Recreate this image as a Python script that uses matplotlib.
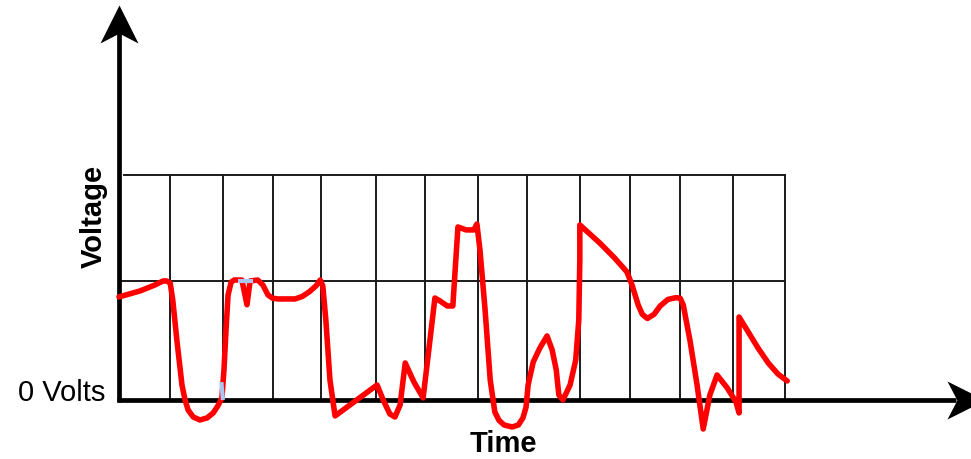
import matplotlib.pyplot as plt
from matplotlib.path import Path

# signal trace (time in grid columns, voltage in grid rows)
time = [0.0, 0.41, 0.70, 0.86, 0.93, 1.0, 1.05, 1.13, 1.23, 1.29, 1.35, 1.45, 1.58,
        1.72, 1.84, 1.93, 2.01, 2.05, 2.09, 2.13, 2.19, 2.25, 2.40, 2.50, 2.56,
        2.71, 2.81, 2.91, 3.0, 3.10, 3.44, 3.58, 3.72, 3.85, 3.93, 3.98, 4.04,
        4.12, 4.22, 5.04, 5.16, 5.29, 5.39, 5.49, 5.59, 5.76, 5.94, 6.17, 6.27,
        6.41, 6.52, 6.62, 6.78, 6.93, 6.99, 7.05, 7.15, 7.25, 7.34, 7.42, 7.52,
        7.68, 7.80, 7.89, 7.95, 7.99, 8.09, 8.22, 8.36, 8.46, 8.54, 8.59, 8.67,
        8.81, 8.92, 8.98, 9.0, 9.0, 9.39, 9.68, 9.92, 10.02, 10.14, 10.22, 10.32,
        10.45, 10.57, 10.72, 10.88, 10.96, 11.02, 11.15, 11.29, 11.41, 11.54,
        11.68, 11.88, 12.05, 12.11, 12.11, 12.29, 12.48, 12.68, 12.87, 13.05]
voltage = [0.866, 0.916, 0.966, 1.0, 1.0, 0.983, 0.84, 0.504, 0.126, 0.0, -0.084,
           -0.143, -0.168, -0.151, -0.109, -0.05, 0.017, 0.252, 0.588, 0.882, 0.99,
           1.008, 1.008, 0.80, 1.0, 1.008, 0.966, 0.882, 0.855, 0.849, 0.849, 0.87,
           0.91, 0.96, 1.008, 0.958, 0.672, 0.168, -0.134, 0.126, 0.0, -0.118,
           -0.143, -0.042, 0.311, 0.151, 0.017, 0.857, 0.832, 0.79, 0.79, 1.454,
           1.429, 1.429, 1.479, 1.26, 0.756, 0.168, -0.101, -0.17, -0.21, -0.227,
           -0.21, -0.15, -0.06, 0.126, 0.319, 0.437, 0.538, 0.42, 0.252, 0.042,
           0.0, 0.126, 0.336, 0.672, 1.176, 1.471, 1.319, 1.193, 1.076, 0.966,
           0.798, 0.72, 0.685, 0.72, 0.79, 0.845, 0.86, 0.855, 0.798, 0.504,
           0.126, -0.244, 0.042, 0.21, 0.101, -0.017, -0.109, 0.697, 0.571, 0.437,
           0.311, 0.218, 0.16]

grid_times = [1.0, 2.03, 3.01, 3.95, 5.02, 5.98, 7.01, 7.97, 9.0, 9.98, 10.96, 12.0, 13.0]
grid_mid = 1.0
grid_top = 1.89

# pale blue highlight bits left in the original drawing
hl_time = [[2.0, 2.03], [2.33, 2.62]]
hl_volt = [[0.15, 0.0], [1.0, 1.0]]

fig = plt.figure(figsize=(9.71, 4.59), dpi=100)
ax = fig.add_axes([0, 0, 1, 1])
ax.set_xlim(-2.324, 16.64)
ax.set_ylim(-0.496, 3.361)
ax.axis("off")

plt.rcParams["font.family"] = ["Liberation Sans", "DejaVu Sans"]

# grid
t_end = grid_times[-1]
for t in grid_times:
    ax.plot([t, t], [0, grid_top], color="#1a1a1a", lw=1.4, zorder=1)
ax.plot([0, t_end], [grid_mid, grid_mid], color="#1a1a1a", lw=1.4, zorder=1)
ax.plot([0.1, t_end], [grid_top, grid_top], color="#1a1a1a", lw=1.4, zorder=1)

# axes with arrow heads
up_head = Path([(0, 0), (0.5, -1), (0, -0.74), (-0.5, -1), (0, 0)],
               [Path.MOVETO, Path.LINETO, Path.LINETO, Path.LINETO, Path.CLOSEPOLY])
right_head = Path([(0, 0), (-1, 0.5), (-0.74, 0), (-1, -0.5), (0, 0)],
                  [Path.MOVETO, Path.LINETO, Path.LINETO, Path.LINETO, Path.CLOSEPOLY])
ax.plot([0, 0], [-0.02, 3.1], color="black", lw=3.4, solid_capstyle="butt", zorder=2)
ax.plot([-0.04, 16.35], [0, 0], color="black", lw=3.4, solid_capstyle="butt", zorder=2)
ax.plot([0], [3.319], marker=up_head, ms=54.7, color="black", mew=0, zorder=2)
ax.plot([16.91], [0], marker=right_head, ms=54.7, color="black", mew=0, zorder=2)

# signal
ax.plot(time, voltage, color="#ff0000", lw=4.0, solid_joinstyle="round",
        solid_capstyle="round", zorder=3)
for ht, hv in zip(hl_time, hl_volt):
    ax.plot(ht, hv, color="#a9c6f5", lw=3.0, solid_capstyle="butt", zorder=4)

# labels
ax.text(-0.5, 1.54, "Voltage", rotation=90, ha="center", va="center",
        fontsize=21, fontweight="bold")
ax.text(-0.27, 0.06, "0 Volts", ha="right", va="center", fontsize=21)
ax.text(7.5, -0.37, "Time", ha="center", va="center", fontsize=21, fontweight="bold")

fig.savefig("out.png", dpi=100)
